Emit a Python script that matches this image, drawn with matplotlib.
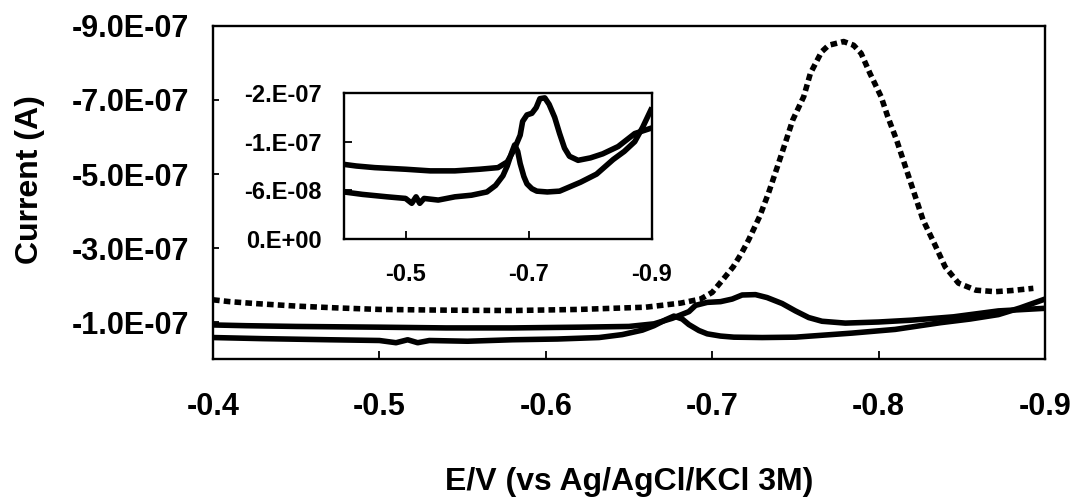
import matplotlib
matplotlib.use("Agg")
import matplotlib.pyplot as plt
from matplotlib.ticker import FixedLocator, FixedFormatter

# potentials (V) and currents (units of 1E-07 A)
e_dotted = [-0.400, -0.410, -0.425, -0.450, -0.475, -0.500, -0.540, -0.580, -0.620,
            -0.660, -0.681, -0.693, -0.700, -0.7065, -0.7126, -0.7175, -0.7219, -0.7285,
            -0.7338, -0.7392, -0.7445, -0.7484, -0.755, -0.759, -0.7657, -0.770, -0.7790,
            -0.785, -0.7895, -0.7948, -0.8015, -0.8055, -0.8108, -0.8161, -0.8214, -0.8267,
            -0.8334, -0.840, -0.848, -0.8585, -0.870, -0.880, -0.893]
i_dotted = [-1.60, -1.55, -1.50, -1.43, -1.38, -1.34, -1.32, -1.31, -1.34,
            -1.40, -1.51, -1.62, -1.80, -2.15, -2.49, -2.85, -3.22, -3.85,
            -4.48, -5.20, -5.92, -6.46, -7.09, -7.72, -8.30, -8.48, -8.58,
            -8.48, -8.26, -7.72, -7.09, -6.55, -5.92, -5.20, -4.48, -3.76,
            -3.13, -2.49, -2.05, -1.86, -1.82, -1.85, -1.91]

e_upper = [-0.400, -0.420, -0.450, -0.500, -0.540, -0.580, -0.620, -0.650, -0.665,
           -0.676, -0.686, -0.690, -0.697, -0.705, -0.712, -0.718, -0.726, -0.733,
           -0.742, -0.750, -0.758, -0.766, -0.780, -0.800, -0.820, -0.845, -0.872, -0.900]
i_upper = [-0.92, -0.90, -0.88, -0.86, -0.84, -0.84, -0.86, -0.88, -0.95,
           -1.10, -1.28, -1.45, -1.53, -1.55, -1.62, -1.73, -1.74, -1.66,
           -1.50, -1.30, -1.12, -1.02, -0.97, -1.00, -1.05, -1.14, -1.30, -1.37]

e_lower = [-0.400, -0.430, -0.470, -0.500, -0.510, -0.517, -0.523, -0.530, -0.553,
           -0.580, -0.607, -0.632, -0.646, -0.658, -0.665, -0.672, -0.677, -0.682,
           -0.686, -0.692, -0.697, -0.705, -0.713, -0.730, -0.750, -0.784, -0.810,
           -0.837, -0.855, -0.872, -0.885, -0.900]
i_lower = [-0.58, -0.55, -0.52, -0.50, -0.44, -0.52, -0.44, -0.50, -0.48,
           -0.52, -0.54, -0.58, -0.66, -0.78, -0.90, -1.06, -1.16, -1.08,
           -0.93, -0.77, -0.68, -0.62, -0.59, -0.58, -0.59, -0.70, -0.80,
           -0.98, -1.08, -1.20, -1.38, -1.62]

unit = 1e-7

main_xticks = [-0.4, -0.5, -0.6, -0.7, -0.8, -0.9]
main_xlabels = ["-0.4", "-0.5", "-0.6", "-0.7", "-0.8", "-0.9"]
main_yticks = [-1e-7, -3e-7, -5e-7, -7e-7, -9e-7]
main_ylabels = ["-1.0E-07", "-3.0E-07", "-5.0E-07", "-7.0E-07", "-9.0E-07"]

inset_xticks = [-0.5, -0.7, -0.9]
inset_xlabels = ["-0.5", "-0.7", "-0.9"]
inset_yticks = [0.0, -6e-8, -1.2e-7, -1.8e-7]
inset_ylabels = ["0.E+00", "-6.E-08", "-1.E-07", "-2.E-07"]

plt.rcParams['font.family'] = ['Liberation Sans', 'DejaVu Sans']
plt.rcParams['font.weight'] = 'bold'

W, H = 1073, 503
fig = plt.figure(figsize=(W / 100, H / 100), dpi=100)


def px_box(x0, y0, x1, y1):
    # figure pixel box (top-left origin) -> axes rect
    return [x0 / W, 1 - y1 / H, (x1 - x0) / W, (y1 - y0) / H]


def draw_curves(ax, with_dotted):
    lw = 4.0
    if with_dotted:
        ax.plot(e_dotted, [v * unit for v in i_dotted], color='black', lw=lw,
                linestyle=(0, (1.2, 0.75)), dash_capstyle='butt')
    ax.plot(e_upper, [v * unit for v in i_upper], color='black', lw=lw,
            solid_joinstyle='round', solid_capstyle='butt')
    ax.plot(e_lower, [v * unit for v in i_lower], color='black', lw=lw,
            solid_joinstyle='round', solid_capstyle='butt')


def style_axes(ax, xt, xl, yt, yl, size, xlen, ylen, xpad, ypad):
    ax.xaxis.set_major_locator(FixedLocator(xt))
    ax.xaxis.set_major_formatter(FixedFormatter(xl))
    ax.yaxis.set_major_locator(FixedLocator(yt))
    ax.yaxis.set_major_formatter(FixedFormatter(yl))
    ax.tick_params(axis='x', direction='in', length=xlen, width=1.3, pad=xpad,
                   labelsize=size)
    ax.tick_params(axis='y', direction='in', length=ylen, width=1.3, pad=ypad,
                   labelsize=size)
    for lab in ax.get_xticklabels() + ax.get_yticklabels():
        lab.set_fontweight('bold')
    for sp in ax.spines.values():
        sp.set_linewidth(1.7)


ax = fig.add_axes(px_box(213, 26, 1045, 359))
draw_curves(ax, True)
ax.set_xlim(-0.4, -0.9)
ax.set_ylim(0, -9e-7)
style_axes(ax, main_xticks, main_xlabels, main_yticks, main_ylabels,
           22, 6, 4, 24, 17)

ins = fig.add_axes(px_box(344, 93, 652, 239))
ins.set_facecolor('white')
draw_curves(ins, False)
ins.set_xlim(-0.4, -0.9)
ins.set_ylim(0, -1.8e-7)
style_axes(ins, inset_xticks, inset_xlabels, inset_yticks, inset_ylabels,
           17, 6, 6, 17, 16)

fig.text(30 / W, 1 - 180 / H, "Current (A)", rotation=90, ha='center',
         va='center', fontsize=23, fontweight='bold')
fig.text(629 / W, 1 - 482 / H, "E/V (vs Ag/AgCl/KCl 3M)", ha='center',
         va='center', fontsize=23, fontweight='bold')

fig.savefig("out.png", dpi=100)
